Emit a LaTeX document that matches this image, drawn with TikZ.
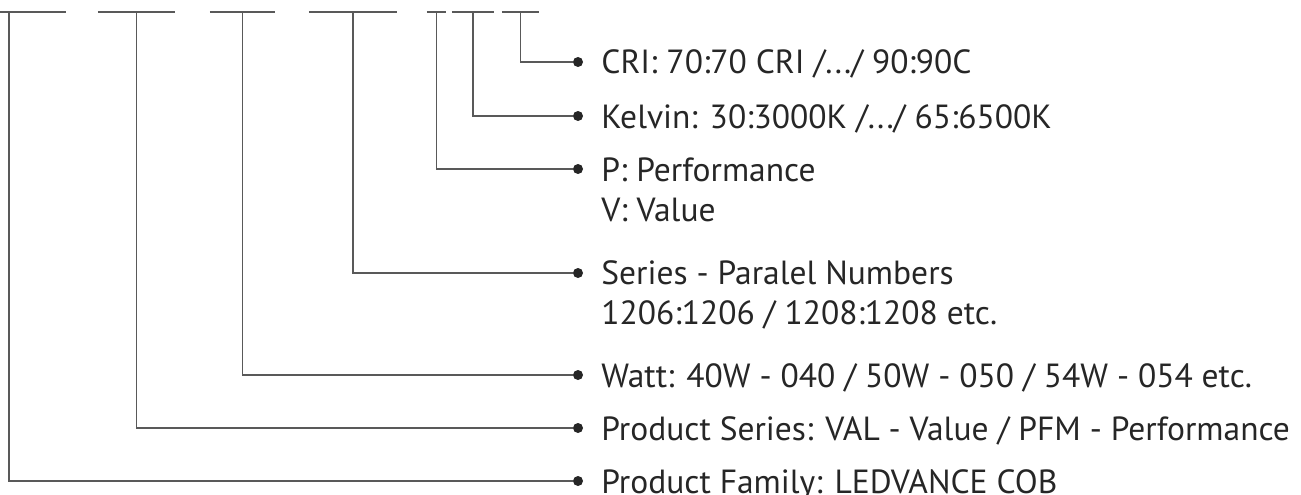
\documentclass[tikz,border=0pt]{standalone}
\usepackage{fontspec}
\setmainfont{PT Sans}
\usetikzlibrary{positioning}
\tikzset{slot/.style = {
  rectangle,
  inner sep=0pt,
  minimum height=0pt
  }}
\tikzset{slotline/.style = {draw=black!65, line width=1.5pt}}
\tikzset{bullet/.style = {
  circle,
  fill=black!85,
  inner sep=0pt,
  minimum size=10pt
  }}
\tikzset{lbl/.style = {
  align=left,
  text=black!85,
  inner sep=0pt,
  font=\fontsize{33.5}{40}\selectfont
  }}
\tikzset{link/.style = {
  draw=black!65,
  line width=1.5pt
  }}

\begin{document}
\begin{tikzpicture}[x=1pt, y=-1pt]
\clip (0,0) rectangle (1301,495);

% SLOTS
\node (family) [slot, minimum width=114pt] at (9,12) {};
\node (series) [slot, minimum width=77pt] at (136.5,12) {};
\node (watt) [slot, minimum width=65pt] at (242.5,12) {};
\node (numbers) [slot, minimum width=88pt] at (353,12) {};
\node (grade) [slot, minimum width=19pt] at (436.5,12) {};
\node (kelvin) [slot, minimum width=42pt] at (473,12) {};
\node (cri) [slot, minimum width=37pt] at (520.5,12) {};

% BULLETS
\node (dcri) [bullet] at (578,62) {};
\node (dkelvin) [bullet] at (578,116) {};
\node (dgrade) [bullet] at (578,169) {};
\node (dnumbers) [bullet] at (578,273) {};
\node (dwatt) [bullet] at (578,375) {};
\node (dseries) [bullet] at (578,428) {};
\node (dfamily) [bullet] at (578,481) {};

% LABELS
\node (tcri) [lbl, right=18pt of dcri, anchor=base west, yshift=-12pt] {CRI: 70:70 CRI /.../ 90:90C};
\node (tkelvin) [lbl, right=18pt of dkelvin, anchor=base west, yshift=-12pt] {Kelvin: 30:3000K /.../ 65:6500K};
\node (tgrade) [lbl, right=18pt of dgrade, anchor=base west, yshift=-52pt] {P: Performance\\V: Value};
\node (tnumbers) [lbl, right=18pt of dnumbers, anchor=base west, yshift=-51pt] {Series - Paralel Numbers\\1206:1206 / 1208:1208 etc.};
\node (twatt) [lbl, right=18pt of dwatt, anchor=base west, yshift=-12pt] {Watt: 40W - 040 / 50W - 050 / 54W - 054 etc.};
\node (tseries) [lbl, right=18pt of dseries, anchor=base west, yshift=-12pt] {Product Series: VAL - Value / PFM - Performance};
\node (tfamily) [lbl, right=18pt of dfamily, anchor=base west, yshift=-12pt] {Product Family: LEDVANCE COB};

% lines
\foreach \s in {family, series, watt, numbers, grade, kelvin, cri}
  \draw [slotline] (\s.west) -- (\s.east);

\draw [link] (family) |- (dfamily);
\draw [link] (series) |- (dseries);
\draw [link] (watt) |- (dwatt);
\draw [link] (numbers) |- (dnumbers);
\draw [link] (grade) |- (dgrade);
\draw [link] (kelvin) |- (dkelvin);
\draw [link] (cri) |- (dcri);
\end{tikzpicture}
\end{document}
